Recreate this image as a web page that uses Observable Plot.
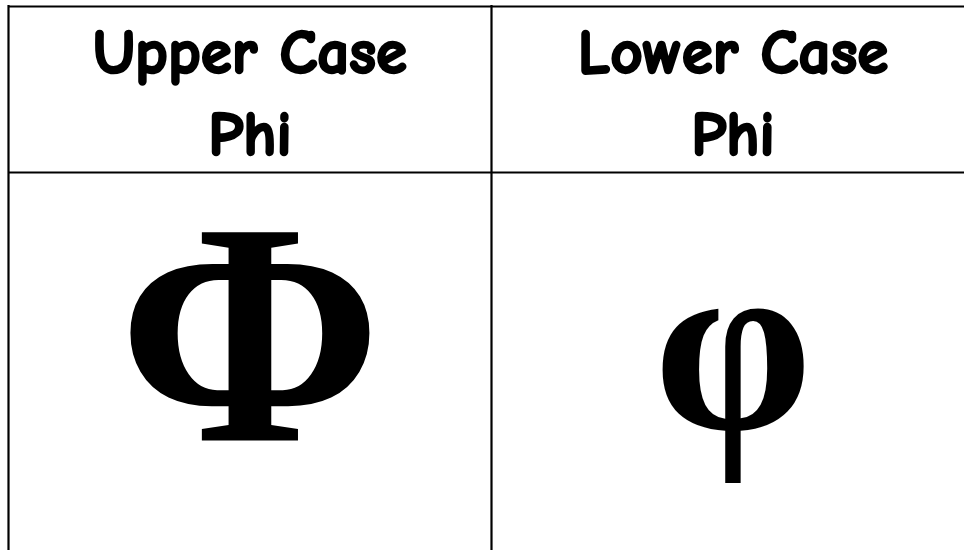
<!DOCTYPE html>
<html>
<head>
<meta charset="utf-8">
<script src="https://cdn.jsdelivr.net/npm/d3@7"></script>
<script src="https://cdn.jsdelivr.net/npm/@observablehq/plot@0.6"></script>
<style>
  html, body { margin: 0; padding: 0; background: #fff; }
  #chart svg { display: block; }
</style>
</head>
<body>
<div id="chart"></div>
<script>
// Table content
const columnIndex = [0, 1];
const headerLine1 = ["Upper Case", "Lower Case"];
const headerLine2 = ["Phi", "Phi"];
const glyphs = ["Φ", "φ"];

const headFont = "'Comic Sans MS', 'Comic Neue', Lato, 'Open Sans', sans-serif";
const glyphFont = "'Liberation Serif', 'DejaVu Serif', serif";

const W = 964, H = 550;
const tableTop = 6, headBottom = 172;

const cells = columnIndex.map(i => ({
  col: i,
  line1: headerLine1[i],
  line2: headerLine2[i],
  glyph: glyphs[i]
}));

const headStyle = {lineAnchor: "bottom", fontSize: 63, fontWeight: "bold", fontFamily: headFont,
  fill: "#000", stroke: "#000", strokeWidth: 2.4, strokeLinejoin: "round"};

const chart = Plot.plot({
  width: W,
  height: H,
  margin: 0,
  x: {domain: [0, 2], range: [8, 974], axis: null},
  y: {domain: [0, H], range: [0, H], axis: null},
  marks: [
    Plot.ruleX(columnIndex, {x: d => d, y1: () => tableTop - 1, y2: () => H, stroke: "#000", strokeWidth: 2.2}),
    Plot.ruleY([tableTop, headBottom], {y: d => d, x1: () => 0, x2: () => 2, stroke: "#000", strokeWidth: 2.2}),
    Plot.text(cells, {x: d => d.col + 0.5, y: () => 72, text: "line1", ...headStyle}),
    Plot.text(cells, {x: d => d.col + 0.5, y: () => 154, text: "line2", ...headStyle}),
    Plot.text(cells.filter(d => d.col === 0), {x: d => d.col + 0.5, y: () => 440, text: "glyph", lineAnchor: "bottom",
      fontSize: 318, fontWeight: "bold", fontFamily: glyphFont, fill: "#000"}),
    Plot.text(cells.filter(d => d.col === 1), {x: d => d.col + 0.5, y: () => 428, text: "glyph", lineAnchor: "bottom",
      fontSize: 255, fontWeight: "bold", fontFamily: glyphFont, fill: "#000"})
  ]
});
document.getElementById("chart").appendChild(chart);
</script>
</body>
</html>
